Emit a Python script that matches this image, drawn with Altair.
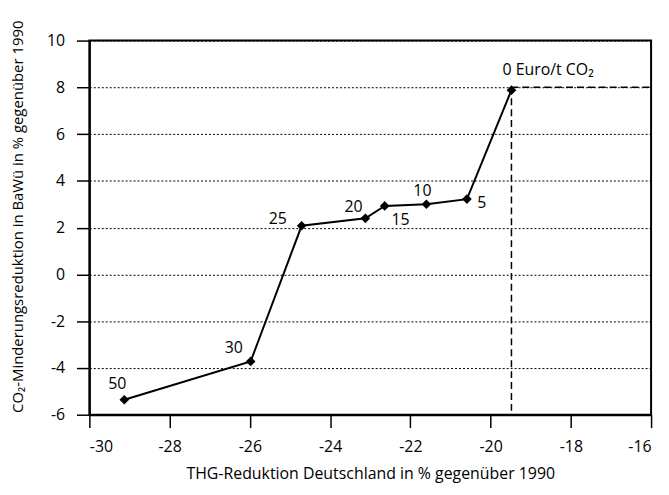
import altair as alt
import pandas as pd

# data
thg_de = [-29.13, -25.98, -24.71, -23.12, -22.64, -21.60, -20.59, -19.48]
co2_bw = [-5.36, -3.72, 2.08, 2.40, 2.93, 3.00, 3.22, 7.88]
price_labels = ["50", "30", "25", "20", "15", "10", "5", "0 Euro/t CO\u2082"]

x_ticks = [-30, -28, -26, -24, -22, -20, -18, -16]
y_ticks = [-6, -4, -2, 0, 2, 4, 6, 8, 10]

ref_x = [-19.48]
ref_y = [8]

df = pd.DataFrame({"x": thg_de, "y": co2_bw, "label": price_labels, "order": list(range(len(thg_de)))})

FONT = "Open Sans"
FS = 16

xscale = alt.Scale(domain=[-30, -16], nice=False)
yscale = alt.Scale(domain=[-6, 10], nice=False)

base = alt.Chart(df)

x_enc = alt.X("x:Q", scale=xscale, title="THG-Reduktion Deutschland in % gegenüber 1990",
              axis=alt.Axis(values=x_ticks, grid=False, tickSize=13, tickColor="black", tickWidth=1.5,
                            labelExpr="'' + datum.value",
                            labelPadding=11, titlePadding=11, domainColor="black", domainWidth=2))
y_enc = alt.Y("y:Q", scale=yscale, title="CO\u2082-Minderungsreduktion in BaWü in % gegenüber 1990",
              axis=alt.Axis(values=y_ticks, grid=True, gridColor="black", gridDash=[2, 2], gridWidth=1,
                            labelExpr="'' + datum.value",
                            tickSize=13, tickColor="black", tickWidth=1.5, labelPadding=12,
                            domainColor="black", domainWidth=2, titleFontSize=15,
                            titleX=-72, titleY=177, titleBaseline="middle", titleAngle=-90))

ref_df = pd.DataFrame({"rx": ref_x, "ry": ref_y})
vline = alt.Chart(ref_df).mark_rule(color="black", strokeDash=[7, 4], strokeWidth=1.5).encode(
    x=alt.X("rx:Q", scale=xscale), y=alt.Y("ry:Q", scale=yscale), y2=alt.datum(-6))
hline = alt.Chart(ref_df).mark_rule(color="black", strokeDash=[7, 4], strokeWidth=1.5).encode(
    x=alt.X("rx:Q", scale=xscale), x2=alt.datum(-16), y=alt.Y("ry:Q", scale=yscale))

line = base.mark_line(color="black", strokeWidth=2).encode(x=x_enc, y=y_enc, order="order:Q")
pts = base.mark_point(shape="diamond", filled=True, color="black", size=95, opacity=1).encode(
    x=alt.X("x:Q", scale=xscale), y=alt.Y("y:Q", scale=yscale))

def lab(text, dx, dy, align="center"):
    return base.transform_filter(alt.datum.label == text).mark_text(
        font=FONT, fontSize=FS, color="black", dx=dx, dy=dy, align=align, baseline="middle").encode(
        x=alt.X("x:Q", scale=xscale), y=alt.Y("y:Q", scale=yscale), text="label:N")

labels = [
    lab("50", -7, -16),
    lab("30", -17, -13),
    lab("25", -24, -7),
    lab("20", -12, -11),
    lab("15", 16, 14),
    lab("10", -4, -13),
    lab("5", 15, 4),
    lab("0 Euro/t CO\u2082", -9, -20, "left"),
]

chart = alt.layer(vline, hline, line, pts, *labels).properties(
    width=566, height=377,
    autosize=alt.AutoSizeParams(type="none"),
    padding={"left": 82, "top": 31, "right": 10, "bottom": 70},
    background="white",
).configure_view(stroke="black", strokeWidth=2).configure_axis(
    labelFont=FONT, titleFont=FONT, labelFontSize=FS, titleFontSize=FS,
    labelColor="black", titleColor="black", titleFontWeight="normal"
)

chart.save("out.html", embed_options={"renderer": "svg", "actions": False})
